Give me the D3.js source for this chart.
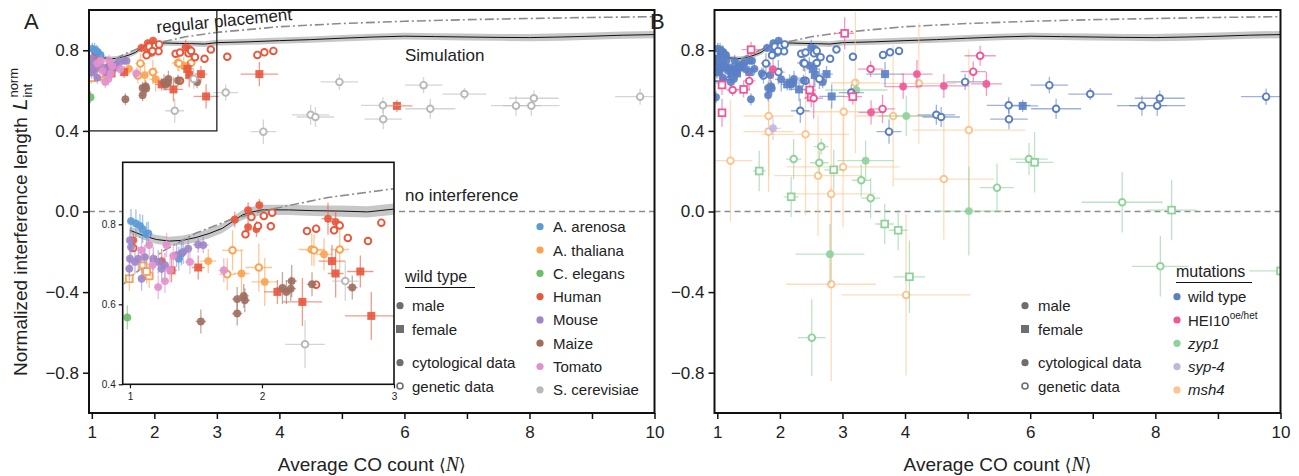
<!DOCTYPE html>
<html><head><meta charset="utf-8">
<script src="https://cdn.jsdelivr.net/npm/d3@7"></script>
<style>body{margin:0;background:#fff} text{font-family:"Liberation Sans",Arial,sans-serif;fill:#222}</style>
</head><body><svg id="c" width="1299" height="476"></svg>
<script>
// ---------------- data ----------------
// each point: [N, L, dN, dL, sex (m/f), kind (c = cytological, g = genetic)]
const speciesNames = ["A. arenosa","A. thaliana","C. elegans","Human","Mouse","Maize","Tomato","S. cerevisiae"];
const speciesColors = ["#5b9bd5","#fca24f","#6dbe68","#e8573c","#9e86c9","#9f6e5f","#e291cc","#b9b9b9"];

const arenosa = [
 [1.008,0.808,0.02,0.03,'m','c'],[1.045,0.802,0.02,0.035,'m','c'],[1.076,0.796,0.02,0.03,'m','c'],
 [1.096,0.788,0.02,0.035,'m','c'],[1.126,0.775,0.02,0.03,'m','c'],[1.139,0.777,0.02,0.03,'m','c'],
 [1.37,0.714,0.03,0.03,'m','c'],[1.39,0.727,0.03,0.03,'m','c']];
const thaliana = [
 [0.995,0.664,0.02,0.03,'f','g'],[1.10,0.696,0.03,0.03,'f','g'],[1.146,0.671,0.03,0.03,'f','g'],[1.126,0.682,0.03,0.03,'f','g'],
 [1.593,0.708,0.06,0.03,'m','c'],[2.021,0.656,0.1,0.06,'m','c'],[2.47,0.725,0.06,0.04,'m','c'],[1.845,0.677,0.06,0.06,'m','c'],
 [1.777,0.735,0.08,0.05,'m','g'],[1.737,0.675,0.06,0.04,'m','g'],[1.976,0.692,0.1,0.06,'m','g'],
 [2.377,0.737,0.1,0.04,'m','g'],[2.394,0.735,0.06,0.04,'m','g'],[2.589,0.737,0.07,0.05,'m','g']];
const elegans = [[0.98,0.567,0.01,0.03,'m','c']];
const human = [
 [1.98,0.848,0.02,0.015,'m','c'],[1.895,0.835,0.02,0.02,'m','c'],[1.895,0.793,0.02,0.02,'m','c'],[1.958,0.788,0.02,0.02,'m','c'],
 [1.794,0.812,0.02,0.02,'m','c'],[2.5,0.814,0.05,0.04,'m','c'],[2.558,0.806,0.04,0.03,'m','c'],[1.025,0.76,0.02,0.02,'m','c'],
 [1.24,0.708,0.03,0.03,'m','c'],
 [1.92,0.818,0.01,0.01,'m','g'],[2.014,0.821,0.01,0.01,'m','g'],[2.077,0.829,0.01,0.01,'m','g'],[2.067,0.795,0.01,0.01,'m','g'],
 [1.97,0.796,0.01,0.01,'m','g'],[1.875,0.775,0.01,0.01,'m','g'],[2.341,0.783,0.01,0.01,'m','g'],[2.41,0.789,0.01,0.01,'m','g'],
 [2.546,0.785,0.01,0.01,'m','g'],[2.589,0.797,0.01,0.01,'m','g'],[2.65,0.766,0.01,0.01,'m','g'],[2.803,0.758,0.01,0.01,'m','g'],
 [2.904,0.804,0.01,0.01,'m','g'],[2.41,0.649,0.01,0.01,'m','g'],[1.025,0.741,0.01,0.01,'m','g'],[3.167,0.768,0.01,0.01,'m','g'],
 [3.648,0.777,0.01,0.01,'m','g'],[3.76,0.79,0.01,0.01,'m','g'],[3.904,0.797,0.01,0.01,'m','g'],
 [1.315,0.685,0.04,0.03,'f','c'],[1.517,0.692,0.05,0.03,'f','c'],[2.53,0.708,0.1,0.04,'f','c'],[2.558,0.677,0.06,0.06,'f','c'],
 [2.745,0.682,0.1,0.04,'f','c'],[2.306,0.606,0.15,0.06,'f','c'],[2.828,0.571,0.2,0.06,'f','c'],[2.117,0.631,0.1,0.03,'f','c'],
 [3.68,0.682,0.3,0.06,'f','c'],[5.88,0.524,0.25,0.03,'f','c']];
const mouse = [
 [1.0,0.760,0.02,0.03,'m','c'],[1.008,0.743,0.02,0.03,'m','c'],[1.0,0.714,0.02,0.03,'m','c'],[0.995,0.689,0.02,0.03,'m','c'],
 [1.038,0.706,0.02,0.03,'m','c'],[1.063,0.714,0.02,0.03,'m','c'],[1.113,0.718,0.03,0.03,'m','c'],[1.177,0.714,0.03,0.03,'m','c'],
 [1.214,0.706,0.03,0.03,'m','c'],[1.24,0.689,0.03,0.03,'m','c'],[1.088,0.664,0.02,0.03,'m','c'],[1.265,0.698,0.03,0.03,'m','c'],
 [1.353,0.723,0.03,0.03,'m','c'],[1.403,0.731,0.03,0.03,'m','c'],[1.441,0.739,0.03,0.03,'m','c'],[1.517,0.749,0.04,0.02,'m','c'],
 [1.555,0.748,0.04,0.02,'m','c']];
const maize = [
 [1.537,0.557,0.04,0.03,'m','c'],[1.812,0.577,0.04,0.03,'m','c'],[1.812,0.613,0.04,0.03,'m','c'],[1.862,0.621,0.04,0.03,'m','c'],
 [1.87,0.61,0.04,0.03,'m','c'],[2.155,0.641,0.05,0.04,'m','c'],[2.225,0.658,0.04,0.04,'m','c'],[2.218,0.639,0.04,0.03,'m','c'],
 [2.185,0.631,0.04,0.03,'m','c'],[2.379,0.65,0.04,0.03,'m','c'],[2.684,0.642,0.04,0.03,'m','c']];
const tomato = [
 [1.146,0.748,0.03,0.03,'m','c'],[1.277,0.748,0.03,0.03,'m','c'],[1.214,0.643,0.03,0.03,'m','c'],[1.265,0.658,0.03,0.03,'m','c'],
 [1.328,0.721,0.03,0.03,'m','c'],[1.454,0.706,0.04,0.03,'m','c'],[1.303,0.685,0.03,0.03,'m','c'],[1.171,0.698,0.03,0.03,'m','c'],
 [1.088,0.735,0.03,0.03,'m','c'],[1.711,0.685,0.04,0.03,'m','c']];
const cerevisiae = [
 [2.326,0.50,0.15,0.06,'m','g'],[2.631,0.658,0.1,0.05,'m','g'],[3.141,0.59,0.2,0.04,'m','g'],[3.744,0.396,0.2,0.06,'m','g'],
 [4.50,0.48,0.3,0.05,'m','g'],[4.577,0.469,0.3,0.05,'m','g'],[4.96,0.643,0.3,0.04,'m','g'],[5.656,0.527,0.35,0.04,'m','g'],
 [5.661,0.458,0.3,0.05,'m','g'],[6.306,0.627,0.3,0.04,'m','g'],[6.414,0.51,0.4,0.05,'m','g'],[6.96,0.583,0.35,0.03,'m','g'],
 [7.785,0.525,0.4,0.05,'m','g'],[8.07,0.562,0.4,0.04,'m','g'],[8.03,0.525,0.45,0.05,'m','g'],[9.77,0.57,0.4,0.04,'m','g']];
const speciesData = [arenosa, thaliana, elegans, human, mouse, maize, tomato, cerevisiae];

const mutationNames = ["wild type","HEI10","zyp1","syp-4","msh4"];
const mutationColors = ["#5b7fc4","#ee5898","#8fd29c","#c2b6de","#fdc48e"];
const hei10 = [
 [1.54,0.803,0.15,0.04,'f','g'],[3.035,0.884,0.15,0.08,'f','g'],[1.075,0.49,0.05,0.07,'f','g'],[1.075,0.628,0.05,0.05,'f','g'],
 [1.42,0.606,0.1,0.04,'f','g'],[2.476,0.603,0.1,0.04,'f','g'],[2.50,0.567,0.1,0.05,'f','g'],[3.165,0.57,0.15,0.04,'f','g'],
 [1.245,0.603,0.1,0.03,'m','g'],[1.51,0.648,0.1,0.05,'m','g'],[2.54,0.562,0.15,0.1,'m','g'],[3.45,0.707,0.2,0.04,'m','g'],
 [3.64,0.509,0.2,0.07,'m','g'],[5.09,0.694,0.2,0.05,'m','g'],[5.2,0.773,0.25,0.05,'m','g'],
 [1.89,0.706,0.05,0.05,'m','c'],[3.457,0.492,0.2,0.06,'m','c'],[3.97,0.62,0.3,0.06,'m','c'],[4.19,0.682,0.25,0.07,'m','c'],
 [4.62,0.623,0.4,0.06,'m','c'],[5.3,0.633,0.25,0.06,'m','c']];
const zyp1 = [
 [2.66,0.322,0.12,0.04,'m','g'],[2.22,0.26,0.12,0.1,'m','g'],[2.63,0.242,0.15,0.06,'m','g'],[3.37,0.252,0.45,0.1,'m','c'],
 [2.86,0.207,0.15,0.1,'f','g'],[1.67,0.201,0.1,0.1,'f','g'],[3.30,0.155,0.15,0.08,'m','g'],[2.18,0.073,0.12,0.1,'f','g'],
 [3.45,0.066,0.15,0.1,'m','g'],[3.675,-0.062,0.15,0.1,'f','g'],[3.89,-0.093,0.15,0.1,'f','g'],[2.80,-0.212,0.55,0.15,'m','c'],
 [4.07,-0.324,0.25,0.18,'f','g'],[2.51,-0.626,0.22,0.19,'m','g'],[5.47,0.118,0.27,0.12,'m','g'],[5.02,0.002,0.55,0.22,'m','c'],
 [5.98,0.26,0.3,0.08,'m','g'],[6.07,0.244,0.3,0.15,'f','g'],[7.47,0.046,0.65,0.15,'m','g'],[8.26,0.007,0.4,0.15,'f','g'],
 [8.08,-0.272,0.45,0.15,'m','g'],[10.0,-0.295,0.5,0.05,'f','g'],[3.22,0.603,0.5,0.05,'m','c'],[4.02,0.474,0.45,0.1,'m','c']];
const syp4 = [[1.89,0.413,0.12,0.06,'m','c']];
const msh4 = [
 [1.82,0.474,0.4,0.3,'m','g'],[1.82,0.396,0.4,0.3,'m','g'],[2.41,0.383,0.7,0.4,'m','g'],[3.02,0.495,0.6,0.3,'m','g'],
 [3.206,0.639,0.4,0.35,'m','g'],[3.81,0.474,0.6,0.35,'m','g'],[4.22,0.636,0.6,0.3,'m','g'],[5.02,0.404,0.9,0.4,'m','g'],
 [1.21,0.252,0.35,0.3,'m','g'],[2.61,0.178,0.7,0.3,'m','g'],[3.01,0.221,0.9,0.3,'m','g'],[2.82,0.087,0.7,0.45,'m','g'],
 [2.82,-0.361,0.72,0.48,'m','g'],[4.017,-0.414,1.03,0.4,'m','g'],[4.62,0.161,0.8,0.3,'m','g']];

// simulation and regular placement curves
const simN = [1.0,1.1,1.2,1.3,1.4,1.5,1.6,1.7,1.8,1.85,1.9,2.0,2.2,2.4,2.6,2.8,3.0,3.5,4,4.5,5,5.5,6,6.5,7,7.5,8,8.5,9,9.5,10];
const simL = [0.785,0.772,0.762,0.758,0.760,0.767,0.777,0.790,0.812,0.823,0.829,0.836,0.836,0.834,0.833,0.831,0.838,0.842,0.848,0.853,0.860,0.866,0.870,0.868,0.866,0.864,0.863,0.866,0.870,0.875,0.878];
const simErr = [0.01,0.01,0.011,0.011,0.012,0.012,0.012,0.012,0.012,0.012,0.013,0.013,0.013,0.013,0.014,0.014,0.014,0.015,0.015,0.016,0.016,0.016,0.017,0.017,0.017,0.017,0.018,0.018,0.018,0.018,0.018];
const regN = [0.955,1,1.25,1.5,1.75,2,2.5,3,4,5,6,7,8,9,10];
const regL = [0.651,0.667,0.733,0.778,0.810,0.833,0.867,0.889,0.917,0.933,0.944,0.952,0.958,0.963,0.967];

const yTicks = [-0.8,-0.4,0,0.4,0.8];
const xTicks = [1,2,3,4,5,6,7,8,9,10];
const xTickLabels = [1,2,3,4,6,8,10];
const insetXTicks = [1,2,3];
const insetYTicks = [0.4,0.6,0.8];

// ---------------- drawing ----------------
const svg = d3.select("#c");
const defs = svg.append("defs");
const fmt = d3.format(".1f");

const yS = d3.scaleLinear().domain([-1,1]).range([413,10]);
const xA = d3.scaleLinear().domain([0.955,10]).range([89,654.5]);
const xB = d3.scaleLinear().domain([0.955,10]).range([714.5,1280.5]);
const xI = d3.scaleLinear().domain([0.945,3]).range([122.7,394]);
const yI = d3.scaleLinear().domain([0.4,0.955]).range([384.3,162.3]);

function clip(id,x,y){
  const [x0,x1]=x.range(), [y0,y1]=y.range();
  defs.append("clipPath").attr("id",id).append("rect")
    .attr("x",x0).attr("y",Math.min(y0,y1)).attr("width",x1-x0).attr("height",Math.abs(y0-y1));
}
clip("clipA",xA,yS); clip("clipB",xB,yS); clip("clipI",xI,yI);

function drawCurves(g,x,y){
  const area = d3.area().x((d,i)=>x(simN[i])).y0((d,i)=>y(simL[i]-simErr[i])).y1((d,i)=>y(simL[i]+simErr[i]));
  g.append("path").attr("d",area(simN)).attr("fill","#bdbdbd").attr("opacity",0.85);
  g.append("path").attr("d",d3.line().x((d,i)=>x(simN[i])).y((d,i)=>y(simL[i]))(simN))
    .attr("fill","none").attr("stroke","#111").attr("stroke-width",1);
  g.append("path").attr("d",d3.line().x((d,i)=>x(regN[i])).y((d,i)=>y(regL[i]))(regN))
    .attr("fill","none").attr("stroke","#8c8c8c").attr("stroke-width",1.6).attr("stroke-dasharray","9,3,2,3");
}

function drawPoints(g,data,color,x,y){
  const s = g.append("g");
  data.forEach(d=>{
    const [n,l,dn,dl]=d;
    s.append("line").attr("x1",x(n-dn)).attr("x2",x(n+dn)).attr("y1",y(l)).attr("y2",y(l))
      .attr("stroke",color).attr("stroke-width",1.3).attr("stroke-opacity",0.6);
    s.append("line").attr("x1",x(n)).attr("x2",x(n)).attr("y1",y(l-dl)).attr("y2",y(l+dl))
      .attr("stroke",color).attr("stroke-width",1.3).attr("stroke-opacity",0.6);
  });
  data.forEach(d=>{
    const [n,l,,,sex,kind]=d; const cx=x(n), cy=y(l);
    if(sex==='m'){
      const c=s.append("circle").attr("cx",cx).attr("cy",cy);
      if(kind==='c') c.attr("r",3.7).attr("fill",color).attr("fill-opacity",0.9).attr("stroke",color).attr("stroke-opacity",0.5).attr("stroke-width",1);
      else c.attr("r",3.3).attr("fill","#fff").attr("stroke",color).attr("stroke-width",1.9);
    } else {
      const r=s.append("rect");
      if(kind==='c') r.attr("x",cx-4).attr("y",cy-4).attr("width",8).attr("height",8).attr("fill",color).attr("fill-opacity",0.9);
      else r.attr("x",cx-3.4).attr("y",cy-3.4).attr("width",6.8).attr("height",6.8).attr("fill","#fff").attr("stroke",color).attr("stroke-width",1.8);
    }
  });
}

function axes(g,x,y){
  const ax = g.append("g").attr("transform",`translate(0,${y.range()[0]})`)
    .call(d3.axisBottom(x).tickValues(xTicks).tickSize(6).tickPadding(7)
      .tickFormat(v=>xTickLabels.includes(v)?v:""));
  const ay = g.append("g").attr("transform",`translate(${x.range()[0]},0)`)
    .call(d3.axisLeft(y).tickValues(yTicks).tickSize(6).tickPadding(4).tickFormat(fmt));
  [ax,ay].forEach(a=>{
    a.select(".domain").remove();
    a.selectAll("line").attr("stroke","#111").attr("stroke-width",1.5);
    a.selectAll("text").attr("font-size",17).attr("font-family","Liberation Sans").attr("fill","#222");
  });
  g.append("rect").attr("x",x.range()[0]).attr("y",y.range()[1]).attr("width",x.range()[1]-x.range()[0])
    .attr("height",y.range()[0]-y.range()[1]).attr("fill","none").attr("stroke","#111").attr("stroke-width",2);
}

function xTitle(g,cx){
  const t=g.append("text").attr("x",cx).attr("y",471).attr("text-anchor","middle").attr("font-size",19);
  t.append("tspan").text("Average CO count ");
  t.append("tspan").attr("font-family","DejaVu Sans").attr("font-size",17).text("\u27E8");
  t.append("tspan").attr("font-family","Liberation Serif").attr("font-style","italic").attr("font-size",20).text("N");
  t.append("tspan").attr("font-family","DejaVu Sans").attr("font-size",17).text("\u27E9");
}

function panel(x,clipId){
  const g = svg.append("g");
  const inner = g.append("g").attr("clip-path",`url(#${clipId})`);
  inner.append("line").attr("x1",x.range()[0]).attr("x2",x.range()[1]).attr("y1",yS(0)).attr("y2",yS(0))
    .attr("stroke","#8c8c8c").attr("stroke-width",1.6).attr("stroke-dasharray","6,4");
  drawCurves(inner,x,yS);
  return {g,inner};
}

// ---- Panel A
const PA = panel(xA,"clipA");
speciesData.forEach((d,i)=>drawPoints(PA.inner,d,speciesColors[i],xA,yS));
PA.g.append("rect").attr("x",xA(0.955)).attr("y",yS(1)).attr("width",xA(3)-xA(0.955)).attr("height",yS(0.4)-yS(1))
  .attr("fill","none").attr("stroke","#111").attr("stroke-width",1.2);

// inset
const gI = svg.append("g");
gI.append("rect").attr("x",xI.range()[0]).attr("y",yI.range()[1]).attr("width",xI.range()[1]-xI.range()[0])
  .attr("height",yI.range()[0]-yI.range()[1]).attr("fill","#fff");
const innerI = gI.append("g").attr("clip-path","url(#clipI)");
drawCurves(innerI,xI,yI);
speciesData.forEach((d,i)=>drawPoints(innerI,d.filter(p=>p[0]<=3.1),speciesColors[i],xI,yI));
gI.append("rect").attr("x",xI.range()[0]).attr("y",yI.range()[1]).attr("width",xI.range()[1]-xI.range()[0])
  .attr("height",yI.range()[0]-yI.range()[1]).attr("fill","none").attr("stroke","#111").attr("stroke-width",1.6);
const ixa = gI.append("g").attr("transform",`translate(0,${yI.range()[0]})`)
  .call(d3.axisBottom(xI).tickValues(insetXTicks).tickSize(4).tickPadding(5).tickFormat(d3.format("d")));
const iya = gI.append("g").attr("transform",`translate(${xI.range()[0]},0)`)
  .call(d3.axisLeft(yI).tickValues(insetYTicks).tickSize(4).tickPadding(3).tickFormat(fmt));
[ixa,iya].forEach(a=>{a.select(".domain").remove();a.selectAll("line").attr("stroke","#111").attr("stroke-width",1.2);
  a.selectAll("text").attr("font-size",10).attr("font-family","Liberation Sans").attr("fill","#222");});

axes(PA.g,xA,yS);
xTitle(PA.g,(xA.range()[0]+xA.range()[1])/2);

// annotations
PA.g.append("text").attr("x",405).attr("y",61).attr("font-size",17).text("Simulation");
PA.g.append("text").attr("x",405).attr("y",201).attr("font-size",17).text("no interference");
PA.g.append("text").attr("transform","translate(157,33) rotate(-5.5)").attr("font-size",17).text("regular placement");
svg.append("text").attr("x",24).attr("y",29).attr("font-size",22).text("A");
svg.append("text").attr("x",650).attr("y",29).attr("font-size",22).text("B");

// species legend
speciesNames.forEach((nm,i)=>{
  const cy = 226.7 + i*23.3;
  PA.g.append("circle").attr("cx",540).attr("cy",cy).attr("r",3.6).attr("fill",speciesColors[i]);
  PA.g.append("text").attr("x",553).attr("y",cy+5.5).attr("font-size",15).text(nm);
});
function sexLegend(g,x,tx){
  const gray="#6e6e6e";
  const rows=[[305.7,"male","m","c"],[329,"female","f","c"],[362.7,"cytological data","m","c"],[386,"genetic data","m","g"]];
  rows.forEach(([cy,t,sex,kind])=>{
    if(sex==='f') g.append("rect").attr("x",x-4).attr("y",cy-4).attr("width",8).attr("height",8).attr("fill",gray);
    else if(kind==='c') g.append("circle").attr("cx",x).attr("cy",cy).attr("r",3.6).attr("fill",gray);
    else g.append("circle").attr("cx",x).attr("cy",cy).attr("r",3).attr("fill","#fff").attr("stroke",gray).attr("stroke-width",1.6);
    g.append("text").attr("x",tx).attr("y",cy+5.5).attr("font-size",15).text(t);
  });
}
sexLegend(PA.g,400,412);
PA.g.append("text").attr("x",405).attr("y",282).attr("font-size",16).text("wild type");
PA.g.append("line").attr("x1",405).attr("x2",475).attr("y1",287.5).attr("y2",287.5).attr("stroke","#111").attr("stroke-width",1.2);

// ---- Panel B
const PB = panel(xB,"clipB");
drawPoints(PB.inner,msh4,mutationColors[4],xB,yS);
drawPoints(PB.inner,zyp1,mutationColors[2],xB,yS);
drawPoints(PB.inner,syp4,mutationColors[3],xB,yS);
speciesData.forEach(d=>drawPoints(PB.inner,d,mutationColors[0],xB,yS));
drawPoints(PB.inner,hei10,mutationColors[1],xB,yS);
axes(PB.g,xB,yS);
xTitle(PB.g,(xB.range()[0]+xB.range()[1])/2);

sexLegend(PB.g,1025,1038);
PB.g.append("text").attr("x",1176).attr("y",277).attr("font-size",16).text("mutations");
PB.g.append("line").attr("x1",1176).attr("x2",1252).attr("y1",282.5).attr("y2",282.5).attr("stroke","#111").attr("stroke-width",1.2);
mutationNames.forEach((nm,i)=>{
  const cy = 296.7 + i*23.3;
  PB.g.append("circle").attr("cx",1177).attr("cy",cy).attr("r",3.6).attr("fill",mutationColors[i]);
  const t = PB.g.append("text").attr("x",1188).attr("y",cy+5.5).attr("font-size",15);
  if(i===1){ t.append("tspan").text("HEI10"); t.append("tspan").attr("font-size",10).attr("dy",-7).text("oe/het"); }
  else if(i===0) t.text(nm);
  else t.attr("font-style","italic").text(nm);
});

// ---- y-axis title with L^norm_int
(function(){
  const g = svg.append("g");
  const t1 = g.append("text").attr("font-size",19).attr("x",0).attr("y",0).text("Normalized interference length");
  let w = t1.node().getComputedTextLength() + 7;
  const tL = g.append("text").attr("font-size",21).attr("font-family","Liberation Serif").attr("font-style","italic").attr("x",w).attr("y",0).text("L");
  w += tL.node().getComputedTextLength()+1;
  const ts = g.append("text").attr("font-size",13).attr("font-family","Liberation Serif").attr("x",w).attr("y",-9).text("norm");
  const tb = g.append("text").attr("font-size",13).attr("font-family","Liberation Serif").attr("x",w).attr("y",5).text("int");
  w += Math.max(ts.node().getComputedTextLength(), tb.node().getComputedTextLength());
  g.attr("transform",`translate(27,${222 + w/2}) rotate(-90)`);
})();
</script></body></html>
